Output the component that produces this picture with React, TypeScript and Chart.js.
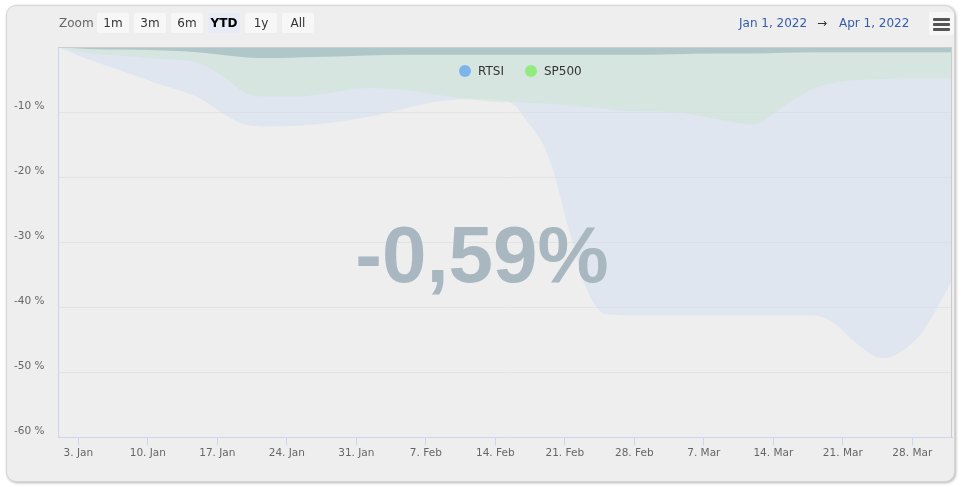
import React, { useEffect, useRef } from 'react';
import { Chart, registerables } from 'chart.js';

Chart.register(...registerables);

// ---------- data ----------
const dates = [
  '2022-01-01', '2022-01-04', '2022-01-08', '2022-01-11', '2022-01-15', '2022-01-18',
  '2022-01-20', '2022-01-22', '2022-01-25', '2022-01-28', '2022-02-01', '2022-02-05',
  '2022-02-08', '2022-02-12', '2022-02-15', '2022-02-16', '2022-02-17', '2022-02-18',
  '2022-02-19', '2022-02-20', '2022-02-21', '2022-02-22', '2022-02-23', '2022-02-24',
  '2022-02-25', '2022-02-27', '2022-03-04', '2022-03-08', '2022-03-12', '2022-03-15',
  '2022-03-18', '2022-03-20', '2022-03-22', '2022-03-25', '2022-03-27', '2022-03-29',
  '2022-03-31', '2022-04-01',
];
const rtsi = [
  0, -1.9, -4.0, -5.6, -7.7, -10.6,
  -12.0, -12.2, -12.1, -11.7, -10.8, -9.4,
  -8.4, -8.0, -8.3, -9.0, -11.0, -13.0,
  -15.5, -19.8, -25.7, -31.2, -36.4, -39.5,
  -41.0, -41.2, -41.2, -41.2, -41.2, -41.2,
  -41.2, -42.3, -45.0, -47.8, -46.7, -43.8,
  -38.7, -35.8,
];
const sp500 = [
  0, -0.9, -1.4, -1.8, -2.4, -5.0,
  -7.2, -7.6, -7.6, -7.1, -6.3, -6.6,
  -7.3, -8.1, -8.5, -8.5, -8.6, -8.6,
  -8.7, -8.8, -8.9, -9.0, -9.2, -9.3,
  -9.5, -9.8, -10.0, -11.0, -11.9, -9.1,
  -6.4, -5.5, -5.1, -4.9, -4.8, -4.8,
  -4.8, -4.8,
];
const portfolio = [
  0, -0.3, -0.4, -0.5, -0.8, -1.3,
  -1.6, -1.7, -1.6, -1.5, -1.3, -1.2,
  -1.2, -1.2, -1.2, -1.2, -1.2, -1.2,
  -1.2, -1.2, -1.2, -1.2, -1.2, -1.2,
  -1.2, -1.2, -1.1, -1.0, -1.0, -0.9,
  -0.8, -0.8, -0.8, -0.8, -0.8, -0.8,
  -0.8, -0.8,
];
const tickDates = [
  '2022-01-03', '2022-01-10', '2022-01-17', '2022-01-24', '2022-01-31', '2022-02-07',
  '2022-02-14', '2022-02-21', '2022-02-28', '2022-03-07', '2022-03-14', '2022-03-21', '2022-03-28',
];
const tickLabels = [
  '3. Jan', '10. Jan', '17. Jan', '24. Jan', '31. Jan', '7. Feb',
  '14. Feb', '21. Feb', '28. Feb', '7. Mar', '14. Mar', '21. Mar', '28. Mar',
];
const yTicks = [-60, -50, -40, -30, -20, -10, 0];
const rangeStart = '2022-01-01';
const rangeEnd = '2022-04-01';
const rangeStartLabel = 'Jan 1, 2022';
const rangeEndLabel = 'Apr 1, 2022';
const zoomButtons = ['1m', '3m', '6m', 'YTD', '1y', 'All'];
const selectedButton = 'YTD';
const legendNames = ['RTSI', 'SP500'];
const legendColors = ['#7cb5ec', '#90ed7d'];
const headline = '-0,59%';

const dayOf = (s: string) =>
  (Date.UTC(+s.slice(0, 4), +s.slice(5, 7) - 1, +s.slice(8, 10)) - Date.UTC(2022, 0, 1)) / 86400000;

const FONT = '"DejaVu Sans", Verdana, sans-serif';

export default function App() {
  const ref = useRef<HTMLCanvasElement | null>(null);

  useEffect(() => {
    if (!ref.current) return;
    const xs = dates.map(dayOf);
    const tickDays = tickDates.map(dayOf);
    const toPts = (arr: number[]) => arr.map((v, i) => ({ x: xs[i], y: v }));

    const plotBorder = {
      id: 'plotBorder',
      afterDatasetsDraw(chart: any) {
        const { ctx, chartArea: a } = chart;
        ctx.save();
        ctx.strokeStyle = '#cccccc';
        ctx.lineWidth = 1;
        ctx.beginPath();
        ctx.moveTo(a.left, a.top + 0.5);
        ctx.lineTo(a.right - 0.5, a.top + 0.5);
        ctx.lineTo(a.right - 0.5, a.bottom);
        ctx.stroke();
        ctx.restore();
      },
    };

    const chart = new Chart(ref.current, {
      type: 'line',
      data: {
        datasets: [
          {
            label: 'RTSI',
            data: toPts(rtsi),
            fill: 'end',
            backgroundColor: 'rgba(208,222,240,0.5)',
            borderColor: 'rgba(0,0,0,0)',
            borderWidth: 0,
            pointRadius: 0,
            cubicInterpolationMode: 'monotone',
            order: 3,
          },
          {
            label: 'SP500',
            data: toPts(sp500),
            fill: 'end',
            backgroundColor: 'rgba(205,230,207,0.5)',
            borderColor: 'rgba(0,0,0,0)',
            borderWidth: 0,
            pointRadius: 0,
            cubicInterpolationMode: 'monotone',
            order: 2,
          },
          {
            label: 'Portfolio',
            data: toPts(portfolio),
            fill: 'end',
            backgroundColor: 'rgba(138,170,179,0.5)',
            borderColor: 'rgba(0,0,0,0)',
            borderWidth: 0,
            pointRadius: 0,
            cubicInterpolationMode: 'monotone',
            order: 1,
          },
        ],
      },
      options: {
        animation: false,
        responsive: false,
        maintainAspectRatio: false,
        layout: { padding: { left: 0, top: 47, right: 12, bottom: 0 } },
        plugins: {
          legend: { display: false },
          tooltip: { enabled: false },
        },
        scales: {
          x: {
            type: 'linear',
            min: dayOf(rangeStart),
            max: dayOf(rangeEnd),
            afterBuildTicks: (scale: any) => {
              scale.ticks = tickDays.map((v) => ({ value: v }));
            },
            afterFit: (scale: any) => {
              scale.height = 49.5;
            },
            ticks: {
              autoSkip: false,
              maxRotation: 0,
              padding: 1,
              color: '#666666',
              font: { family: FONT, size: 10.5 },
              callback: (v: any) => {
                const i = tickDays.indexOf(v);
                return i >= 0 ? tickLabels[i] : '';
              },
            },
            grid: {
              drawOnChartArea: false,
              drawTicks: true,
              tickLength: 8,
              color: '#ccd6eb',
            },
            border: { display: true, color: '#ccd6eb' },
          },
          y: {
            min: -60,
            max: 0,
            afterBuildTicks: (scale: any) => {
              scale.ticks = yTicks.map((v) => ({ value: v }));
            },
            afterFit: (scale: any) => {
              scale.width = 58.5;
            },
            ticks: {
              padding: 14,
              labelOffset: -6,
              color: '#666666',
              font: { family: FONT, size: 10.5 },
              callback: (v: any) => (v === 0 ? '' : v + ' %'),
            },
            grid: {
              drawTicks: false,
              color: '#e3e3e3',
            },
            border: { display: true, color: '#ccd6eb' },
          },
        },
      },
      plugins: [plotBorder],
    } as any);
    return () => chart.destroy();
  }, []);

  const btnLefts = [97, 134, 171, 208, 245, 282];
  const legendDotX = [465, 531];
  const legendTextX = [478, 544];

  return (
    <div style={{ position: 'absolute', left: 0, top: 0, width: 964, height: 487, background: '#ffffff', overflow: 'hidden' }}>
      <div
        style={{
          position: 'absolute', left: 6, top: 5, width: 947, height: 475,
          background: '#eeeeee', border: '1px solid #d6d6d6', borderRadius: 10,
          boxShadow: '1px 1px 3px rgba(0,0,0,0.3)',
        }}
      />
      <canvas ref={ref} width={964} height={487} style={{ position: 'absolute', left: 0, top: 0, width: 964, height: 487 }} />
      {/* toolbar */}
      <div style={{ position: 'absolute', left: 59, top: 13, height: 20, lineHeight: '20px', fontFamily: FONT, fontSize: 12, color: '#666666' }}>Zoom</div>
      {zoomButtons.map((b, i) => (
        <div
          key={b}
          style={{
            position: 'absolute', left: btnLefts[i], top: 13, width: 32, height: 20, lineHeight: '20px',
            textAlign: 'center', fontFamily: FONT, fontSize: 12, borderRadius: 2,
            background: b === selectedButton ? '#e6ebf5' : '#f7f7f7',
            color: b === selectedButton ? '#000000' : '#333333',
            fontWeight: b === selectedButton ? 'bold' : 'normal',
          }}
        >
          {b}
        </div>
      ))}
      <div style={{ position: 'absolute', left: 739, top: 13, height: 20, lineHeight: '20px', fontFamily: FONT, fontSize: 12, color: '#335cad', whiteSpace: 'nowrap' }}>{rangeStartLabel}</div>
      <div style={{ position: 'absolute', left: 817, top: 13, height: 20, lineHeight: '20px', fontFamily: FONT, fontSize: 12, color: '#333333' }}>→</div>
      <div style={{ position: 'absolute', left: 839, top: 13, height: 20, lineHeight: '20px', fontFamily: FONT, fontSize: 12, color: '#335cad', whiteSpace: 'nowrap' }}>{rangeEndLabel}</div>
      {/* menu */}
      <div style={{ position: 'absolute', left: 929, top: 12, width: 25, height: 23, background: '#f7f7f7', borderRadius: 2 }}>
        {[6, 11, 16].map((t) => (
          <div key={t} style={{ position: 'absolute', left: 4, top: t, width: 17, height: 3, background: '#555555', borderRadius: 1 }} />
        ))}
      </div>
      {/* legend */}
      {legendNames.map((n, i) => (
        <React.Fragment key={n}>
          <div style={{ position: 'absolute', left: legendDotX[i] - 6, top: 65, width: 12, height: 12, borderRadius: 6, background: legendColors[i] }} />
          <div style={{ position: 'absolute', left: legendTextX[i], top: 61, height: 20, lineHeight: '20px', fontFamily: FONT, fontSize: 12, color: '#333333' }}>{n}</div>
        </React.Fragment>
      ))}
      {/* headline */}
      <div
        style={{
          position: 'absolute', left: 0, top: 215, width: 964, height: 80, lineHeight: '80px',
          textAlign: 'center', fontFamily: '"Liberation Sans", Arial, sans-serif', fontWeight: 'bold',
          fontSize: 80, color: '#a9b8c0', pointerEvents: 'none',
        }}
      >
        {headline}
      </div>
    </div>
  );
}
